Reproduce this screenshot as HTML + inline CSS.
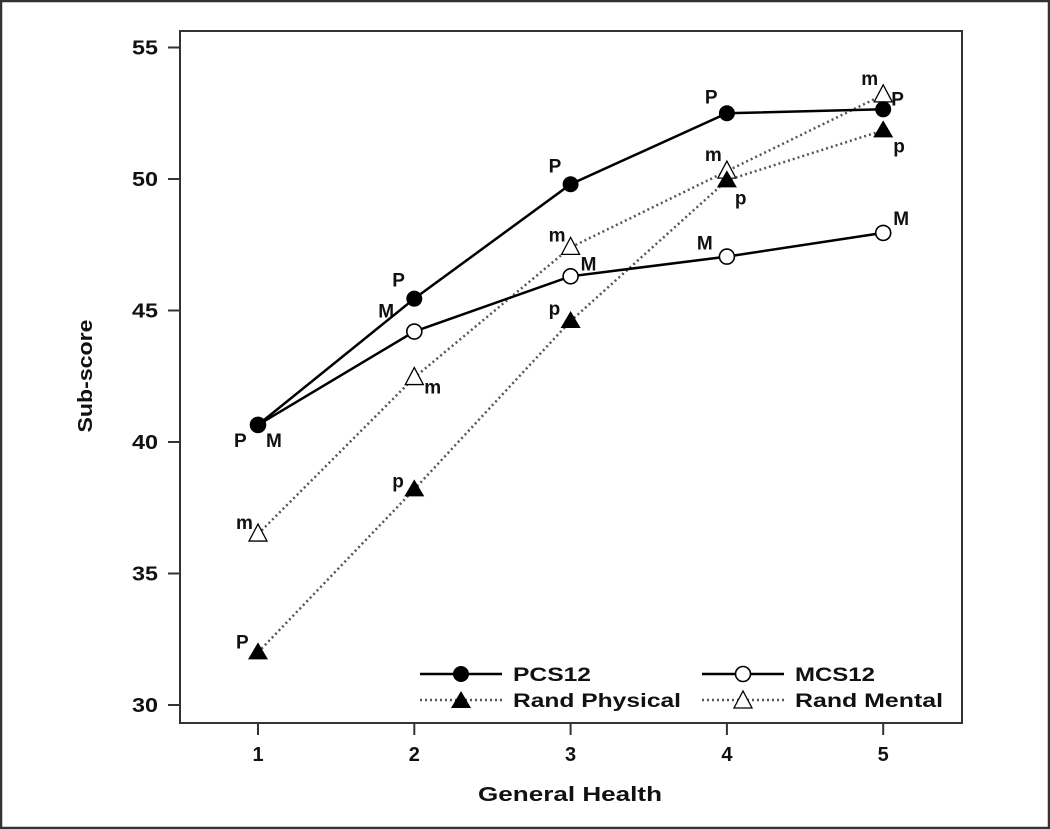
<!DOCTYPE html>
<html><head><meta charset="utf-8"><style>
html,body{margin:0;padding:0;background:#fff}
svg{display:block}
text{font-family:"Liberation Sans",Arial,sans-serif;font-weight:bold;fill:#111}
</style></head><body>
<svg id="chart" width="1050" height="830" viewBox="0 0 1050 830">
<rect x="1" y="1" width="1048" height="827" fill="#fff" stroke="#333" stroke-width="2.5"/>
<rect x="180" y="31" width="782" height="692" fill="none" stroke="#333" stroke-width="2"/>
<g id="axes"></g>
<g id="series"></g>
<text x="92" y="376" transform="rotate(-90 92 376)" text-anchor="middle" font-size="20" textLength="113" lengthAdjust="spacingAndGlyphs">Sub-score</text>
<text x="570" y="801" text-anchor="middle" font-size="20" textLength="184" lengthAdjust="spacingAndGlyphs">General Health</text>
<g id="legend"></g>
</svg>
<script>
const categories = [1, 2, 3, 4, 5];
const yTicks = [30, 35, 40, 45, 50, 55];
const pcs12 = [40.65, 45.45, 49.8, 52.5, 52.65];
const mcs12 = [40.65, 44.2, 46.3, 47.05, 47.95];
const randPhysical = [32.0, 38.2, 44.6, 49.95, 51.85];
const randMental = [36.5, 42.45, 47.4, 50.3, 53.2];
const pcsLabels = ["P","P","P","P","P"];
const mcsLabels = ["M","M","M","M","M"];
const rpLabels = ["P","p","p","p","p"];
const rmLabels = ["m","m","m","m","m"];

const NS = "http://www.w3.org/2000/svg";
function xs(c){ return 258 + (c - 1) * 156.3; }
function ys(v){ return 705 - (v - 30) * 26.3; }
function mk(tag, attrs, parent){ const e = document.createElementNS(NS, tag); for (const k in attrs) e.setAttribute(k, attrs[k]); parent.appendChild(e); return e; }

const axes = document.getElementById('axes');
yTicks.forEach(t => {
  const l = mk('line', {x1:168, x2:180, y1:ys(t), y2:ys(t), stroke:'#333', 'stroke-width':2}, axes);
  
  
  const tx = mk('text', {x:158, y:ys(t)+7, 'text-anchor':'end', 'font-size':20, textLength:26, lengthAdjust:'spacingAndGlyphs'}, axes);
  tx.textContent = t;
  
  
});
categories.forEach(c => {
  const l = mk('line', {x1:xs(c), x2:xs(c), y1:723, y2:735, stroke:'#333', 'stroke-width':2}, axes);
  
  
  const tx = mk('text', {x:xs(c), y:761, 'text-anchor':'middle', 'font-size':20}, axes);
  tx.textContent = c;
  
  
});

function marker(g, type, x, y){
  let e;
  if (type === 'filled-circle') e = mk('circle', {cx:x, cy:y, r:8, fill:'#000'}, g);
  else if (type === 'open-circle') e = mk('circle', {cx:x, cy:y, r:7.5, fill:'#fff', stroke:'#000', 'stroke-width':1.6}, g);
  else if (type === 'filled-tri') e = mk('polygon', {points:`${x},${y-10} ${x-10},${y+7} ${x+10},${y+7}`, fill:'#000'}, g);
  else e = mk('polygon', {points:`${x},${y-10} ${x-9},${y+7} ${x+9},${y+7}`, fill:'#fff', stroke:'#000', 'stroke-width':1.3}, g);
  return e;
}

const seriesG = document.getElementById('series');
const specs = [
  {name:'rand-mental', data:randMental, labels:rmLabels, dash:'2,3', width:2.5, color:'#555', m:'open-tri',
   off:[[-22,-5],[10,16],[-22,-6],[-22,-10],[-22,-10]]},
  {name:'rand-physical', data:randPhysical, labels:rpLabels, dash:'2,3', width:2.5, color:'#555', m:'filled-tri',
   off:[[-22,-4],[-22,-2],[-22,-6],[8,24],[10,22]]},
  {name:'mcs12', data:mcs12, labels:mcsLabels, dash:null, width:2.5, color:'#000', m:'open-circle',
   off:[[8,22],[-36,-14],[10,-6],[-30,-7],[10,-8]]},
  {name:'pcs12', data:pcs12, labels:pcsLabels, dash:null, width:2.5, color:'#000', m:'filled-circle',
   off:[[-24,22],[-22,-12],[-22,-12],[-22,-10],[8,-4]]}
];
specs.forEach(s => {
  const g = mk('g', {}, seriesG);
  
  
  const pts = categories.map((c,i) => xs(c) + ',' + ys(s.data[i])).join(' ');
  const pl = mk('polyline', {points:pts, fill:'none', stroke:s.color, 'stroke-width':s.width}, g);
  if (s.dash) pl.setAttribute('stroke-dasharray', s.dash);
  
  
  categories.forEach((c,i) => {
    const m = marker(g, s.m, xs(c), ys(s.data[i]));
    
    
    const t = mk('text', {x:xs(c)+s.off[i][0], y:ys(s.data[i])+s.off[i][1], 'font-size':19}, g);
    t.textContent = s.labels[i];
    
    
  });
});

const lg = document.getElementById('legend');


const legendItems = [
  {label:'PCS12', x:420, y:674, dash:null, m:'filled-circle', w:78},
  {label:'Rand Physical', x:420, y:700, dash:'2,3', m:'filled-tri', w:168},
  {label:'MCS12', x:702, y:674, dash:null, m:'open-circle', w:80},
  {label:'Rand Mental', x:702, y:700, dash:'2,3', m:'open-tri', w:148}
];
legendItems.forEach(it => {
  const g = mk('g', {}, lg);
  
  
  const l = mk('line', {x1:it.x, x2:it.x+82, y1:it.y, y2:it.y, stroke:it.dash?'#555':'#000', 'stroke-width':2.5}, g);
  if (it.dash) l.setAttribute('stroke-dasharray', it.dash);
  marker(g, it.m, it.x+41, it.y + (it.m.indexOf('tri')>=0 ? 1 : 0));
  const t = mk('text', {x:it.x+93, y:it.y+7, 'font-size':19, textLength:it.w, lengthAdjust:'spacingAndGlyphs'}, g);
  t.textContent = it.label;
});
</script>
</body></html>
